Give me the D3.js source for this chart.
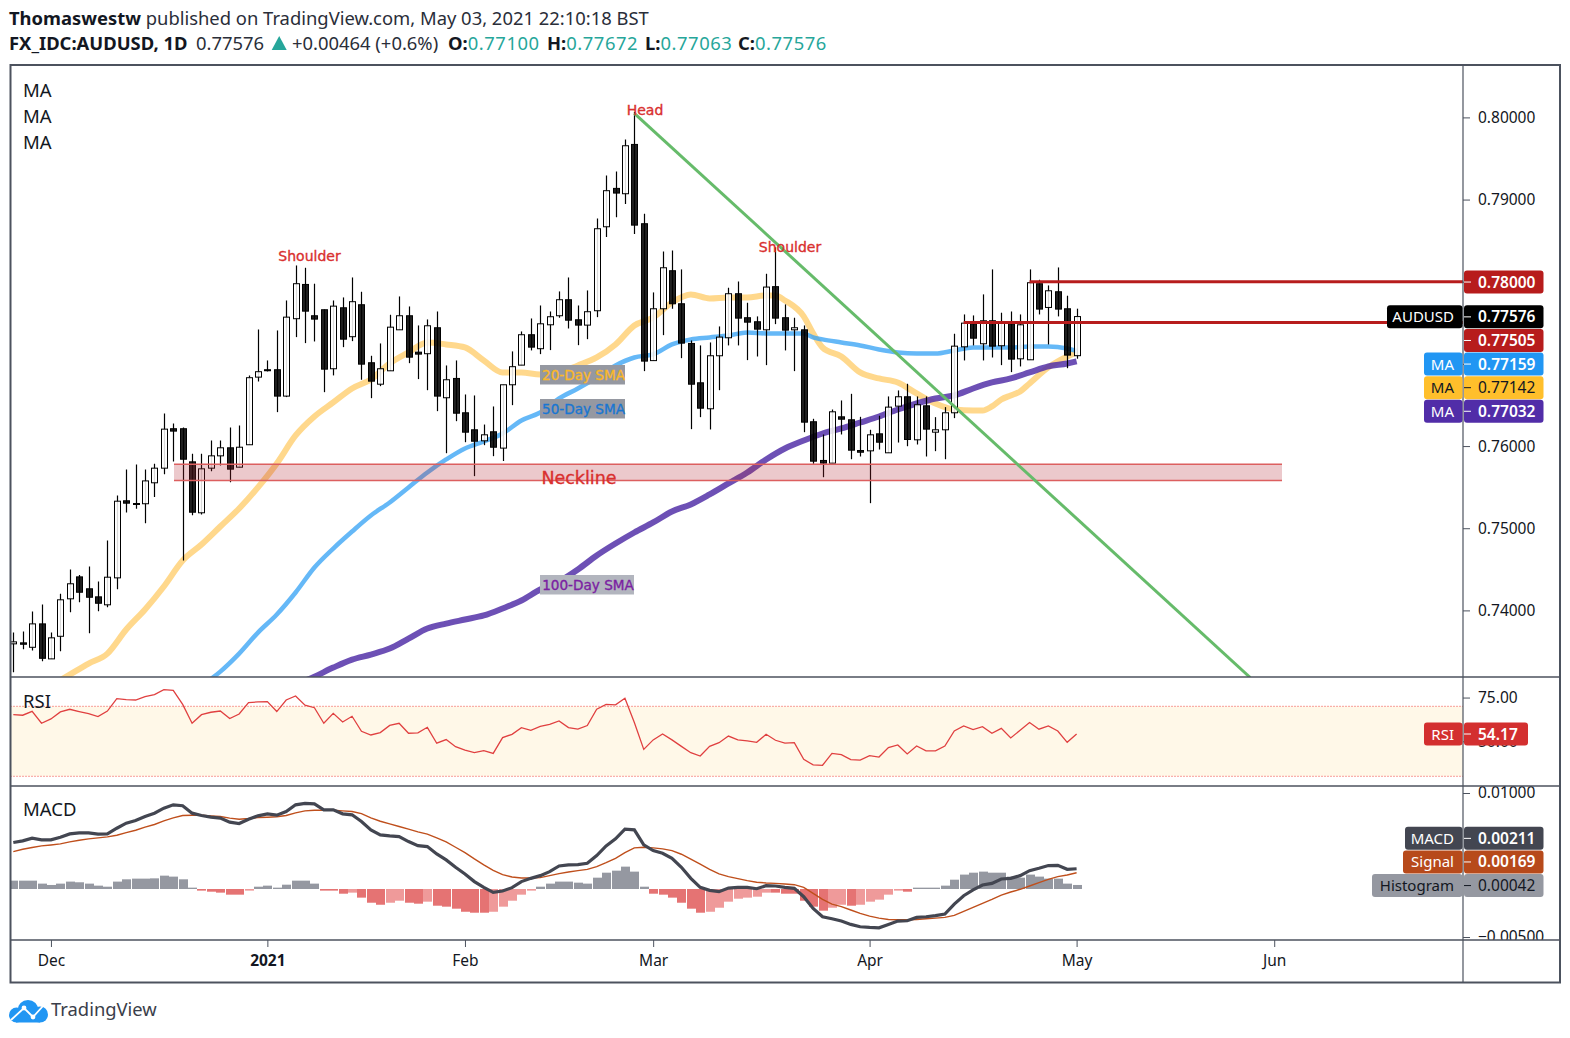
<!DOCTYPE html>
<html>
<head>
<meta charset="utf-8">
<script src="https://cdn.jsdelivr.net/npm/d3@7"></script>
<style>
  html, body { margin: 0; padding: 0; background: #fff; }
  text { font-family: "Noto Sans", sans-serif; }
</style>
</head>
<body>
<div id="chart"></div>
<script>
const opens = [
.73593,.73605,.73551,.73836,.73410,.73685,.74141,.74408,.74263,.74165,
.74068,.74396,.75334,.75301,.75298,.75553,.75731,.76211,.76211,.75808,
.75188,.75731,.75881,.75979,.75743,.76016,.76839,.76929,.76929,.76608,
.77550,.77967,.77586,.77659,.76941,.77683,.77331,.77720,.77014,.76753,
.76916,.77415,.77586,.77143,.77124,.77440,.76588,.76823,.76405,.76198,
.76064,.76174,.75975,.76746,.76985,.77355,.77185,.77476,.77586,.77781,
.77537,.77472,.77647,.78669,.79136,.79071,.79671,.78706,.77040,.77671,
.78134,.77732,.77249,.76770,.76454,.77099,.77318,.77854,.77562,.77513,
.77415,.77940,.77562,.77415,.77415,.76296,.75825,.75792,.76356,.76320,
.75946,.75942,.76149,.75918,.76486,.76600,.76076,.76490,.76169,.76198,
.76405,.77208,.77488,.77245,.77525,.77221,.77488,.77062,.77050,.77976,
.77687,.77878,.77671,.77100];
const highs = [
.73730,.73743,.73986,.74071,.73730,.74202,.74497,.74432,.74534,.74352,
.74851,.75399,.75714,.75775,.75714,.75784,.76397,.76275,.76226,.75906,
.75906,.76067,.76067,.76226,.76250,.76860,.77419,.77042,.77407,.77772,
.78198,.78170,.77976,.77663,.77772,.77809,.78052,.77878,.77099,.77249,
.77598,.77821,.77699,.77468,.77541,.77638,.76981,.77042,.76628,.76616,
.76262,.76482,.76746,.77152,.77395,.77553,.77711,.77638,.77882,.78052,
.77711,.77894,.78771,.79294,.79343,.79732,.80065,.78828,.77870,.78369,
.78381,.78150,.77285,.77225,.77261,.77456,.77927,.78003,.77744,.77578,
.78097,.78421,.77724,.77562,.77468,.76332,.76141,.76445,.76555,.76636,
.76356,.76198,.76369,.76604,.76677,.76758,.76604,.76604,.76352,.76474,
.77367,.77602,.77590,.77846,.78150,.77623,.77638,.77602,.78150,.78024,
.77955,.78174,.77830,.77672];
const lows = [
.73247,.73527,.73511,.73380,.73410,.73502,.73977,.74099,.73722,.73989,
.74038,.74258,.75192,.75237,.75061,.75379,.75658,.75812,.74607,.75158,
.75167,.75694,.75763,.75560,.75743,.76016,.76786,.76908,.76413,.76596,
.77326,.77253,.77273,.76656,.76860,.77204,.77277,.76807,.76583,.76729,
.76916,.77415,.77009,.76815,.76680,.76425,.75913,.76303,.76047,.75634,
.76011,.75877,.75818,.76498,.76985,.77164,.77119,.77168,.77562,.77431,
.77228,.77301,.77569,.78543,.78786,.78945,.78580,.76912,.77040,.77350,
.77671,.77070,.76206,.76352,.76202,.76680,.77225,.77225,.77046,.77090,
.76985,.77484,.77164,.76912,.76169,.75784,.75621,.75792,.76141,.75840,
.75873,.75305,.75958,.75918,.76043,.75998,.76019,.75873,.75938,.75840,
.76340,.77042,.77225,.77042,.77078,.76985,.76900,.76969,.77050,.77602,
.77237,.77578,.76948,.77063];
const closes = [
.73617,.73588,.73836,.73417,.73666,.74129,.74324,.74221,.74160,.74087,
.74404,.75329,.75305,.75289,.75576,.75731,.76206,.76182,.75840,.75195,
.75723,.75881,.75979,.75719,.75986,.76832,.76905,.76920,.76608,.77569,
.77976,.77642,.77545,.76936,.77703,.77301,.77757,.76997,.76790,.76941,
.77447,.77586,.77082,.77119,.77464,.76608,.76807,.76400,.76169,.76059,
.76137,.75986,.76746,.76966,.77355,.77204,.77488,.77574,.77781,.77532,
.77472,.77635,.78645,.79108,.79079,.79655,.78689,.77034,.77671,.78170,
.77732,.77253,.76753,.76461,.77099,.77326,.77854,.77557,.77508,.77423,
.77935,.77557,.77411,.77440,.76291,.75816,.75792,.76417,.76327,.75950,
.75925,.76137,.76047,.76474,.76600,.76080,.76503,.76206,.76198,.76405,
.77216,.77496,.77313,.77525,.77216,.77496,.77058,.77476,.77988,.77667,
.77890,.77667,.77107,.77576];

const sma20Bars = [4,6,8,10,12,14,16,18,20,22,24,26,28,30,32,34,36,38,40,42,44,46,48,50,52,54,56,58,60,62,64,66,68,70,72,74,76,78,80,81,82,84,85,86,88,90,92,94,96,98,100,102,103,104,105,106,107,108,110,112,113];
const sma20 = [.73084,.73218,.73352,.73474,.73767,.74011,.74291,.74607,.74802,.75021,.75240,.75497,.75788,.76129,.76360,.76531,.76701,.76811,.77006,.77140,.77261,.77237,.77200,.77042,.76896,.76896,.76872,.76896,.76981,.77078,.77237,.77468,.77565,.77748,.77846,.77797,.77809,.77809,.77833,.77833,.77772,.77578,.77371,.77200,.77090,.76896,.76823,.76774,.76640,.76518,.76445,.76433,.76433,.76482,.76567,.76616,.76664,.76762,.76957,.77090,.77142];
const sma50Bars = [20,22,24,26,28,30,32,34,36,38,40,42,44,46,48,50,52,54,56,58,60,62,64,66,68,70,72,74,76,78,80,82,84,85,86,88,90,92,94,96,98,100,102,104,106,108,110,112,113];
const sma50 = [.73084,.73255,.73474,.73730,.73950,.74218,.74522,.74753,.74960,.75155,.75314,.75497,.75679,.75837,.75971,.76056,.76153,.76312,.76409,.76579,.76701,.76835,.76981,.77078,.77115,.77237,.77298,.77322,.77346,.77383,.77371,.77371,.77371,.77322,.77298,.77261,.77225,.77176,.77140,.77127,.77127,.77164,.77200,.77200,.77200,.77212,.77212,.77188,.77159];
const sma100Bars = [30,32,34,36,38,40,42,44,46,48,50,52,54,56,58,60,62,64,66,68,70,72,74,76,78,80,82,84,86,88,90,92,94,96,98,100,102,104,106,108,110,112,113];
const sma100 = [.73097,.73194,.73304,.73401,.73462,.73535,.73657,.73779,.73840,.73889,.73938,.74023,.74120,.74254,.74352,.74498,.74668,.74814,.74948,.75070,.75204,.75290,.75411,.75545,.75679,.75837,.75971,.76068,.76153,.76214,.76287,.76360,.76445,.76518,.76579,.76616,.76701,.76774,.76823,.76896,.76969,.77005,.77032];

const rsi = [
65.2,64.9,67.1,60.3,62.8,66.8,68.3,67,65.8,64.1,
67.3,74.4,73.8,73.6,75.5,76.7,79.5,79.1,71.1,60.3,
65.2,66.6,67.3,63,65.6,72.1,72.5,72.7,67,73.6,
75.9,70.6,69.2,60.3,66,61,64.3,55.7,53.6,55,
59.1,60.3,54.6,54.8,58,48.9,51,46.9,44.9,43.5,
44.7,43.1,52.1,54,57.8,56.3,58.5,59.7,61.6,57.8,
57,59,68.3,71.1,70.8,74.6,60.7,45.4,50.8,54.2,
50.8,47.1,43.5,41.6,47.1,49.2,53,50.8,50.2,49.4,
54,50.6,49,49.2,39.7,36.5,36.3,43.1,42.4,39.5,
39.3,41.8,41,46.4,47.9,42.8,47.3,44.5,44.5,47.3,
55.9,58.8,56.7,58.4,54.6,57.4,51.9,56.3,60.7,56.9,
58.8,55.9,49.4,54.17];

const macd = [
.00484,.00501,.00529,.00512,.00512,.00539,.00574,.00585,.00585,.00571,
.00574,.00633,.00686,.00713,.00755,.00790,.00842,.00877,.00867,.00790,
.00766,.00748,.00738,.00696,.00682,.00727,.00762,.00783,.00769,.00807,
.00877,.00891,.00887,.00825,.00825,.00783,.00773,.00703,.00616,.00564,
.00553,.00546,.00494,.00452,.00442,.00365,.00303,.00226,.00157,.00077,
.00017,-.00035,-.00021,.00014,.00077,.00111,.00139,.00181,.00240,.00251,
.00254,.00268,.00348,.00449,.00522,.00623,.00616,.00459,.00400,.00372,
.00320,.00226,.00111,.00017,-.00014,-.00028,.00010,.00017,.00017,.00003,
.00035,.00031,.00017,.00007,-.00080,-.00202,-.00289,-.00310,-.00334,-.00369,
-.00393,-.00400,-.00404,-.00369,-.00334,-.00331,-.00296,-.00289,-.00278,-.00261,
-.00157,-.00070,-.00010,.00042,.00059,.00104,.00111,.00139,.00191,.00216,
.00244,.00247,.00205,.00211];
const signal = [
.00390,.00414,.00432,.00449,.00459,.00470,.00491,.00508,.00522,.00532,
.00543,.00560,.00588,.00612,.00644,.00672,.00710,.00741,.00766,.00769,
.00769,.00762,.00755,.00738,.00727,.00734,.00745,.00748,.00752,.00766,
.00793,.00814,.00821,.00821,.00821,.00814,.00807,.00786,.00741,.00706,
.00679,.00651,.00623,.00595,.00571,.00532,.00491,.00435,.00379,.00313,
.00251,.00195,.00150,.00125,.00115,.00115,.00118,.00139,.00160,.00177,
.00191,.00205,.00233,.00275,.00320,.00379,.00428,.00435,.00428,.00418,
.00400,.00362,.00310,.00258,.00205,.00157,.00129,.00108,.00087,.00070,
.00063,.00059,.00052,.00045,.00017,-.00045,-.00108,-.00157,-.00184,-.00219,
-.00254,-.00282,-.00303,-.00317,-.00320,-.00320,-.00317,-.00310,-.00303,-.00296,
-.00275,-.00233,-.00191,-.00150,-.00108,-.00063,-.00031,-.00003,.00031,.00066,
.00101,.00129,.00146,.00169];
const histogram = [
.00087,.00087,.00087,.00056,.00042,.00056,.00077,.00070,.00056,.00035,
.00024,.00077,.00101,.00108,.00108,.00111,.00139,.00129,.00101,.00014,
-.00017,-.00028,-.00038,-.00059,-.00059,-.00017,.00024,.00035,.00014,.00045,
.00087,.00087,.00056,-.00017,-.00017,-.00049,-.00038,-.00090,-.00143,-.00164,
-.00143,-.00122,-.00143,-.00153,-.00132,-.00174,-.00184,-.00205,-.00237,-.00247,
-.00247,-.00237,-.00184,-.00122,-.00059,-.00017,.00024,.00056,.00077,.00077,
.00066,.00056,.00118,.00170,.00191,.00233,.00181,.00024,-.00049,-.00059,
-.00090,-.00143,-.00205,-.00247,-.00237,-.00195,-.00132,-.00101,-.00090,-.00080,
-.00038,-.00038,-.00049,-.00049,-.00122,-.00184,-.00226,-.00195,-.00164,-.00174,
-.00164,-.00132,-.00111,-.00059,-.00017,-.00028,.00014,.00014,.00014,.00035,
.00097,.00150,.00170,.00181,.00170,.00170,.00129,.00118,.00150,.00129,
.00108,.00108,.00056,.00042];

const timeLabels = ["Dec", "2021", "Feb", "Mar", "Apr", "May", "Jun"];
const timeBars = [4, 27, 48, 68, 91, 113, 134];
const priceTicks = [0.74, 0.75, 0.76, 0.77, 0.78, 0.79, 0.80];
const rsiTicks = [50, 75];
const macdTicks = [-0.005, 0.01];
const neckline = [0.7558, 0.7578];
const trendBars = [66, 131.45];
const trendPrices = [0.8005, 0.73183];
const resistance = [[108, 0.78], [101, 0.77505]];

const width = 1570, height = 1038;
const left = 10.5, right = 1560, axisX = 1463;
const top_ = 65, mainBottom = 677, rsiBottom = 786, macdBottom = 940, bottom = 982.5;
const lineColor = "#4c525e";

const svg = d3.select("#chart").append("svg")
    .attr("width", width).attr("height", height)
    .style("display", "block");

const x = d3.scaleLinear().domain([0, 113]).range([13.3, 1076.6]);
const y = d3.scaleLinear().domain([0.74, 0.80]).range([610.4, 117.4]);
const yRsi = d3.scaleLinear().domain([30, 70]).range([776.3, 706.3]);
const yMacd = d3.scaleLinear().domain([-0.005, 0.01]).range([937, 793]);

function addClip(id, x0, y0, x1, y1) {
    svg.append("clipPath").attr("id", id).append("rect")
        .attr("x", x0).attr("y", y0).attr("width", x1 - x0).attr("height", y1 - y0);
}
addClip("mainClip", left, top_, axisX, mainBottom);
addClip("rsiClip", left, mainBottom, axisX, rsiBottom);
addClip("macdClip", left, rsiBottom, axisX, macdBottom);
addClip("macdAxisClip", axisX, rsiBottom, right, macdBottom);

// header
const headSize = 18.4;
const teal = "#26a69a";
const head1 = svg.append("text").attr("x", 9).attr("y", 25).attr("font-size", headSize).attr("fill", "#131722");
head1.append("tspan").attr("font-weight", 700).text("Thomaswestw");
head1.append("tspan").attr("fill", "#2a2e39").text(" published on TradingView.com, May 03, 2021 22:10:18 BST");

function headText(px, str, color, weight) {
    svg.append("text").attr("x", px).attr("y", 50).attr("font-size", headSize)
        .attr("fill", color).attr("font-weight", weight).text(str);
}
headText(9, "FX_IDC:AUDUSD, 1D", "#131722", 700);
headText(196, "0.77576", "#2a2e39", 400);
svg.append("path").attr("d", "M279.2 36L286.7 50H271.7Z").attr("fill", teal);
headText(292, "+0.00464 (+0.6%)", "#2a2e39", 400);
[["O:", "0.77100", 448], ["H:", "0.77672", 547], ["L:", "0.77063", 645], ["C:", "0.77576", 738]].forEach(d => {
    const t = svg.append("text").attr("x", d[2]).attr("y", 50).attr("font-size", headSize);
    t.append("tspan").attr("font-weight", 700).attr("fill", "#131722").text(d[0]);
    t.append("tspan").attr("fill", teal).attr("letter-spacing", 0.55).text(d[1]);
});

// main pane
const main = svg.append("g").attr("clip-path", "url(#mainClip)");

function maLine(bars, vals, color, w, op) {
    main.append("path")
        .datum(bars.map((b, i) => [b, vals[i]]))
        .attr("fill", "none").attr("stroke", color).attr("stroke-width", w)
        .attr("stroke-opacity", op).attr("stroke-linejoin", "round")
        .attr("d", d3.line().x(d => x(d[0])).y(d => y(d[1])).curve(d3.curveMonotoneX));
}
maLine(sma20Bars, sma20, "#ffc451", 6, 0.66);
maLine(sma50Bars, sma50, "#3aa4f5", 4.5, 0.78);
maLine(sma100Bars, sma100, "#5331a8", 6, 0.85);

const bars = d3.range(opens.length);
main.selectAll(".wick").data(bars).enter().append("line")
    .attr("x1", i => Math.round(x(i)) + 0.5).attr("x2", i => Math.round(x(i)) + 0.5)
    .attr("y1", i => y(highs[i])).attr("y2", i => y(lows[i]))
    .attr("stroke", "#000").attr("stroke-width", 1.2);
main.selectAll(".body").data(bars).enter().append("rect")
    .attr("x", i => Math.round(x(i)) - 2.5)
    .attr("y", i => y(Math.max(opens[i], closes[i])))
    .attr("width", 6)
    .attr("height", i => Math.max(1, Math.abs(y(opens[i]) - y(closes[i]))))
    .attr("fill", i => closes[i] >= opens[i] ? "#fff" : "#000")
    .attr("fill-opacity", i => closes[i] >= opens[i] ? 0.85 : 0.88)
    .attr("stroke", "#000").attr("stroke-width", 1);

// neckline band, edged top and bottom only
main.append("rect")
    .attr("x", 174).attr("width", 1282 - 174)
    .attr("y", y(neckline[1])).attr("height", y(neckline[0]) - y(neckline[1]))
    .attr("fill", "#b22833").attr("fill-opacity", 0.25);
neckline.forEach(v => {
    main.append("line").attr("x1", 174).attr("x2", 1282).attr("y1", y(v)).attr("y2", y(v))
        .attr("stroke", "#dc5f5f").attr("stroke-width", 1.5);
});

// trend line and resistance lines
main.append("line")
    .attr("x1", x(trendBars[0])).attr("y1", y(trendPrices[0]))
    .attr("x2", x(trendBars[1])).attr("y2", y(trendPrices[1]))
    .attr("stroke", "#66bb6a").attr("stroke-width", 3);
main.selectAll(".res").data(resistance).enter().append("line")
    .attr("x1", d => x(d[0])).attr("x2", axisX)
    .attr("y1", d => y(d[1])).attr("y2", d => y(d[1]))
    .attr("stroke", "#b71c1c").attr("stroke-width", 3);

// pattern notes
const red = "#d9302f";
const noteFont = '"DejaVu Sans", sans-serif';
[["Head", 645, 114.5, 14], ["Shoulder", 309.5, 260.5, 14], ["Shoulder", 790, 251.5, 14], ["Neckline", 579, 483.5, 17.5]].forEach(d => {
    main.append("text").attr("x", d[1]).attr("y", d[2]).attr("text-anchor", "middle")
        .style("font-family", noteFont).attr("font-size", d[3]).attr("fill", red)
        .attr("stroke", red).attr("stroke-width", 0.35).text(d[0]);
});
[["20-Day SMA", 540, 365, 85, "#9598a1", "#fbb829"],
 ["50-Day SMA", 540, 399, 85, "#9598a1", "#1976d2"],
 ["100-Day SMA", 540, 575, 94, "#b2b5be", "#7b1fa2"]].forEach(d => {
    main.append("rect").attr("x", d[1]).attr("y", d[2]).attr("width", d[3]).attr("height", 19.5).attr("fill", d[4]);
    main.append("text").attr("x", d[1] + d[3] / 2 + 1).attr("y", d[2] + 15).attr("text-anchor", "middle")
        .style("font-family", noteFont).attr("font-size", 13.6).attr("fill", d[5])
        .attr("stroke", d[5]).attr("stroke-width", 0.35).text(d[0]);
});

["MA", "MA", "MA"].forEach((d, i) => {
    svg.append("text").attr("x", 23).attr("y", 97 + i * 26).attr("font-size", 18.5).attr("fill", "#131722").text(d);
});

// RSI pane
const rsiG = svg.append("g").attr("clip-path", "url(#rsiClip)");
rsiG.append("rect").attr("x", left).attr("width", axisX - left)
    .attr("y", yRsi(70)).attr("height", yRsi(30) - yRsi(70)).attr("fill", "#fff8e8");
[70, 30].forEach(v => {
    rsiG.append("line").attr("x1", left).attr("x2", axisX).attr("y1", yRsi(v)).attr("y2", yRsi(v))
        .attr("stroke", "#ef3f3f").attr("stroke-width", 1).attr("stroke-dasharray", "1 2");
});
rsiG.append("path").datum(rsi)
    .attr("fill", "none").attr("stroke", "#e04040").attr("stroke-width", 1.3)
    .attr("d", d3.line().x((d, i) => x(i)).y(d => yRsi(d)));
svg.append("text").attr("x", 23).attr("y", 708).attr("font-size", 18.5).attr("fill", "#131722").text("RSI");

// MACD pane
const macdG = svg.append("g").attr("clip-path", "url(#macdClip)");
macdG.selectAll(".hist").data(bars).enter().append("rect")
    .attr("x", i => Math.round(x(i)) - 4)
    .attr("width", 9)
    .attr("y", i => Math.min(yMacd(histogram[i]), yMacd(0)))
    .attr("height", i => Math.abs(yMacd(histogram[i]) - yMacd(0)))
    .attr("fill", i => histogram[i] >= 0 ? "#9598a1"
        : (i > 0 && histogram[i] > histogram[i - 1] ? "#ef9a9a" : "#e57373"));
macdG.append("path").datum(signal)
    .attr("fill", "none").attr("stroke", "#bf4f1c").attr("stroke-width", 1.4)
    .attr("d", d3.line().x((d, i) => x(i)).y(d => yMacd(d)));
macdG.append("path").datum(macd)
    .attr("fill", "none").attr("stroke", "#434651").attr("stroke-width", 3.2)
    .attr("d", d3.line().x((d, i) => x(i)).y(d => yMacd(d)));
svg.append("text").attr("x", 23).attr("y", 816).attr("font-size", 18.5).attr("fill", "#131722").text("MACD");

// axes
function rightAxis(parent, scale, ticks, fmt) {
    const g = parent.append("g").attr("transform", `translate(${axisX},0)`)
        .call(d3.axisRight(scale).tickValues(ticks).tickFormat(fmt).tickSize(7).tickPadding(8));
    g.select(".domain").remove();
    g.selectAll(".tick line").attr("stroke", lineColor);
    g.selectAll("text").attr("font-size", 15.5).attr("fill", "#131722")
        .style("font-family", '"Noto Sans", sans-serif');
    return g;
}
rightAxis(svg, y, priceTicks, d3.format(".5f"));
rightAxis(svg, yRsi, rsiTicks, d3.format(".2f"));
rightAxis(svg.append("g").attr("clip-path", "url(#macdAxisClip)"), yMacd, macdTicks,
    d => d3.format(".5f")(d).replace("-", "−"));

const timeAxis = svg.append("g").attr("transform", `translate(0,${macdBottom})`)
    .call(d3.axisBottom(x).tickValues(timeBars).tickFormat((d, i) => timeLabels[i]).tickSize(7).tickPadding(8));
timeAxis.select(".domain").remove();
timeAxis.selectAll(".tick line").attr("stroke", lineColor);
timeAxis.selectAll("text").attr("font-size", 15.5).attr("fill", "#131722")
    .style("font-family", '"Noto Sans", sans-serif')
    .attr("font-weight", (d, i) => timeLabels[i] == "2021" ? 700 : 400);

// pane frame
const frame = svg.append("g").attr("stroke", lineColor).attr("fill", "none");
frame.append("rect").attr("x", left).attr("y", top_).attr("width", right - left).attr("height", bottom - top_).attr("stroke-width", 2);
frame.append("line").attr("x1", left).attr("x2", right).attr("y1", mainBottom).attr("y2", mainBottom).attr("stroke-width", 1.5);
frame.append("line").attr("x1", left).attr("x2", right).attr("y1", rsiBottom).attr("y2", rsiBottom).attr("stroke-width", 1.5);
frame.append("line").attr("x1", left).attr("x2", right).attr("y1", macdBottom).attr("y2", macdBottom).attr("stroke-width", 1.5);
frame.append("line").attr("x1", axisX).attr("x2", axisX).attr("y1", top_).attr("y2", bottom).attr("stroke-width", 1.2);

// value labels on the axis
const labelH = 23;
function axisLabel(cy, text, fill, ink, tag, tagLeft, valueRight) {
    const g = svg.append("g");
    if (tag) {
        g.append("rect").attr("x", tagLeft).attr("y", cy - labelH / 2).attr("width", axisX - 0.5 - tagLeft)
            .attr("height", labelH).attr("rx", 3).attr("fill", fill);
        g.append("text").attr("x", axisX - 9).attr("y", cy + 5.5).attr("text-anchor", "end")
            .attr("font-size", 15).attr("fill", ink).text(tag);
    }
    g.append("rect").attr("x", axisX + 1).attr("y", cy - labelH / 2).attr("width", (valueRight || 1543.5) - axisX - 1)
        .attr("height", labelH).attr("rx", 3).attr("fill", fill);
    g.append("line").attr("x1", axisX + 1).attr("x2", axisX + 8).attr("y1", cy).attr("y2", cy).attr("stroke", ink);
    g.append("text").attr("x", axisX + 15).attr("y", cy + 5.5).attr("font-size", 15.5)
        .attr("font-weight", ink == "#fff" ? 600 : 400).attr("fill", ink).text(text);
}

const priceLabels = [
    [0.78, "0.78000", "#b71c1c", "#fff", null, 0],
    [0.77576, "0.77576", "#000", "#fff", "AUDUSD", 1387],
    [0.77505, "0.77505", "#b71c1c", "#fff", null, 0],
    [0.77159, "0.77159", "#2196f3", "#fff", "MA", 1424],
    [0.77142, "0.77142", "#ffbf2b", "#131722", "MA", 1424],
    [0.77032, "0.77032", "#512da8", "#fff", "MA", 1424]];
let lastY = -100;
priceLabels.forEach(d => {
    lastY = Math.max(y(d[0]) + 0.3, lastY + 23.6);
    axisLabel(lastY, d[1], d[2], d[3], d[4], d[5]);
});
axisLabel(yRsi(54.17), "54.17", "#d32f2f", "#fff", "RSI", 1424, 1528);

const macdLabels = [
    [0.00042, "0.00042", "#9598a1", "#131722", "Histogram", 1372],
    [0.00169, "0.00169", "#b74a1b", "#fff", "Signal", 1403],
    [0.00211, "0.00211", "#434651", "#fff", "MACD", 1405]];
lastY = 2000;
macdLabels.forEach(d => {
    lastY = Math.min(yMacd(d[0]) + 0.6, lastY - 23.6);
    axisLabel(lastY, d[1], d[2], d[3], d[4], d[5]);
});

// logo
const logo = svg.append("g");
logo.append("circle").attr("cx", 28).attr("cy", 1010.5).attr("r", 10.5).attr("fill", "#2196f3");
logo.append("circle").attr("cx", 16.5).attr("cy", 1015).attr("r", 7.5).attr("fill", "#2196f3");
logo.append("circle").attr("cx", 40).attr("cy", 1014.5).attr("r", 8).attr("fill", "#2196f3");
logo.append("rect").attr("x", 16).attr("y", 1012).attr("width", 24).attr("height", 10.5).attr("fill", "#2196f3");
logo.append("path").attr("d", "M11 1020L24 1008L33 1017L43 1006").attr("fill", "none").attr("stroke", "#fff").attr("stroke-width", 1.8);
logo.append("circle").attr("cx", 24).attr("cy", 1008).attr("r", 2.4).attr("fill", "#fff");
logo.append("circle").attr("cx", 33).attr("cy", 1017).attr("r", 2.4).attr("fill", "#fff");
svg.append("text").attr("x", 51).attr("y", 1016).attr("font-size", 18.4).attr("fill", "#3a3e4a").text("TradingView");
</script>
</body>
</html>
